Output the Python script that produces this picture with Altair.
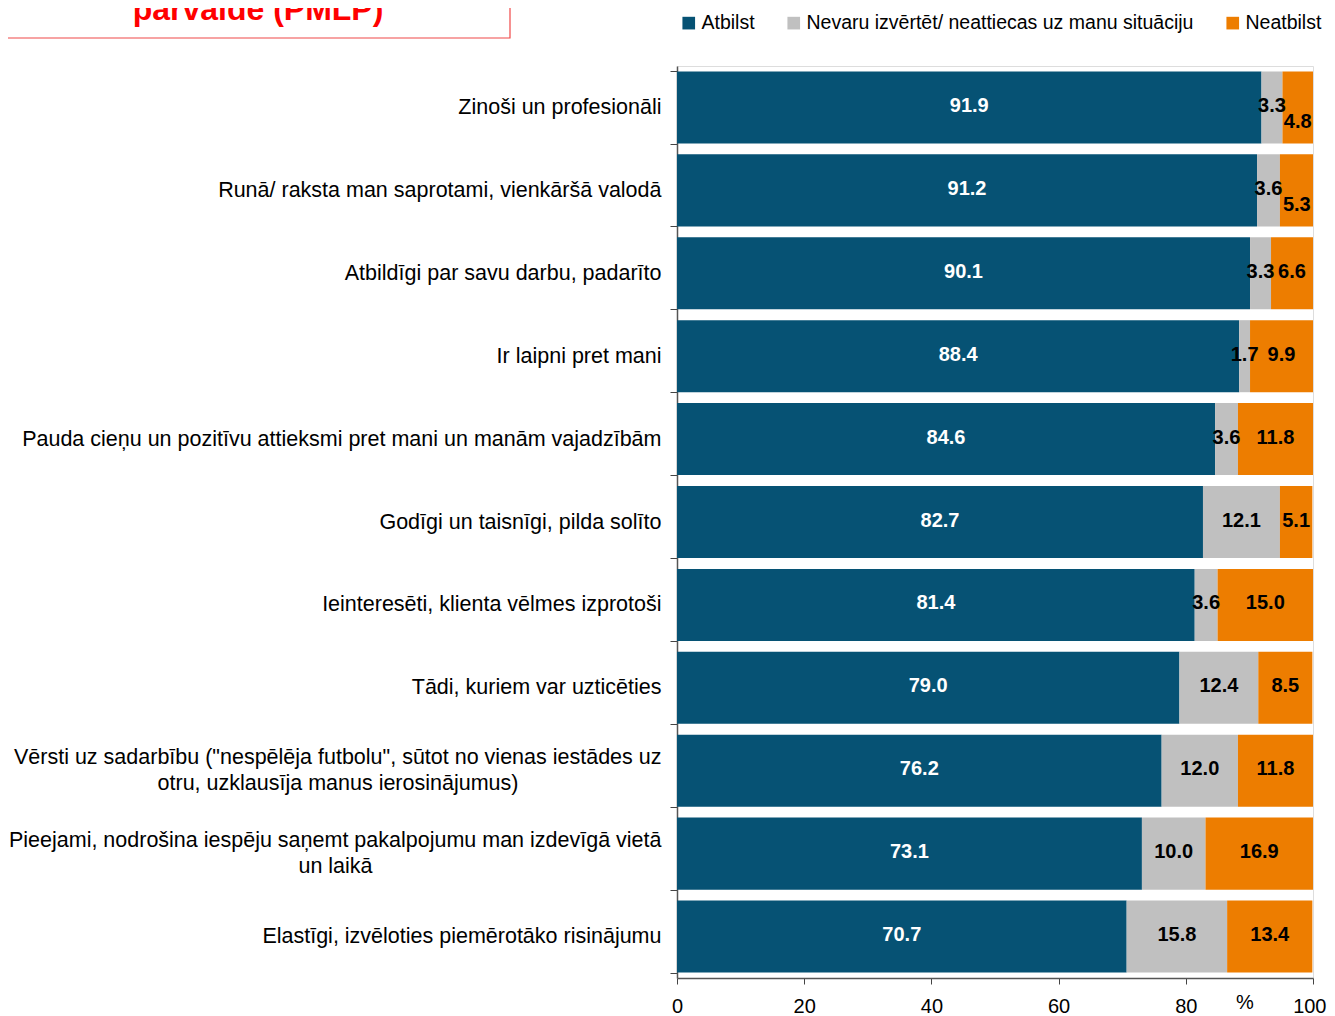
import json
import altair as alt
import pandas as pd

# ---- data ----
categories = [
    "Zinoši un profesionāli",
    "Runā/ raksta man saprotami, vienkāršā valodā",
    "Atbildīgi par savu darbu, padarīto",
    "Ir laipni pret mani",
    "Pauda cieņu un pozitīvu attieksmi pret mani un manām vajadzībām",
    "Godīgi un taisnīgi, pilda solīto",
    "Ieinteresēti, klienta vēlmes izprotoši",
    "Tādi, kuriem var uzticēties",
    "Vērsti uz sadarbību (\"nespēlēja futbolu\", sūtot no vienas iestādes uz|otru, uzklausīja manus ierosinājumus)",
    "Pieejami, nodrošina iespēju saņemt pakalpojumu man izdevīgā vietā|un laikā",
    "Elastīgi, izvēloties piemērotāko risinājumu",
]
atbilst = [91.9, 91.2, 90.1, 88.4, 84.6, 82.7, 81.4, 79.0, 76.2, 73.1, 70.7]
nevaru = [3.3, 3.6, 3.3, 1.7, 3.6, 12.1, 3.6, 12.4, 12.0, 10.0, 15.8]
neatbilst = [4.8, 5.3, 6.6, 9.9, 11.8, 5.1, 15.0, 8.5, 11.8, 16.9, 13.4]

series = ["Atbilst", "Nevaru izvērtēt/ neattiecas uz manu situāciju", "Neatbilst"]
colors = ["#065274", "#C0C0C0", "#ED7D00"]
x_ticks = [0, 20, 40, 60, 80, 100]
title_text = "parvalde (PMLP)"
FONT = "Liberation Sans"

# axis shows the first line of each label; wrapped labels are lifted half a line
# and their second line is drawn centred under the first one
axis_labels = [c.split("|")[0] for c in categories]
second_lines = [c.split("|")[1] if "|" in c else "" for c in categories]
wrapped = [a for a, s in zip(axis_labels, second_lines) if s]
wrapped_test = f"indexof({json.dumps(wrapped, ensure_ascii=False)}, datum.value) >= 0"

rows = []
for i, cat in enumerate(axis_labels):
    vals = [atbilst[i], nevaru[i], neatbilst[i]]
    start = 0.0
    crowded = (nevaru[i] + neatbilst[i]) / 2 < 4.6
    for j, (s, v) in enumerate(zip(series, vals)):
        rows.append(dict(cat=cat, series=s, order=j, value=v, start=start,
                         end=min(start + v, 100), mid=start + v / 2,
                         label=f"{v:.1f}", shifted=bool(j == 2 and crowded),
                         tcolor="white" if j == 0 else "black"))
        start += v
df = pd.DataFrame(rows)

y_scale = alt.Scale(paddingInner=0.131, paddingOuter=0.066)
y_enc = alt.Y("cat:N", sort=axis_labels, scale=y_scale,
              axis=alt.Axis(title=None,
                            labelFontSize=21.5, labelPadding=9,
                            labelOffset={"condition": {"test": wrapped_test, "value": -13.5},
                                         "value": 0},
                            tickSize=7, tickBand="extent", labelLimit=800,
                            labelColor="black", domainColor="#555555", domainWidth=1.5,
                            tickColor="#444444", labelFont=FONT))

x_scale = alt.Scale(domain=[0, 100], nice=False)

bars = alt.Chart(df).mark_bar(clip=True).encode(
    x=alt.X("start:Q", scale=x_scale,
            axis=alt.Axis(values=x_ticks, title=None, tickSize=6, labelFontSize=20,
                          labelPadding=12, grid=False, labelFlush=False,
                          labelOverlap=False, labelColor="black",
                          labelAlign={"condition": {"test": "datum.value === 100", "value": "right"},
                                      "value": "center"},
                          labelOffset={"condition": {"test": "datum.value === 100", "value": 13},
                                       "value": 0},
                          domainColor="#555555", domainWidth=1.5, tickColor="#444444",
                          labelFont=FONT)),
    x2="end:Q",
    y=y_enc,
    color=alt.Color("series:N", title=None,
                    scale=alt.Scale(domain=series, range=colors),
                    legend=alt.Legend(orient="none", legendX=2, legendY=-53,
                                      direction="horizontal", symbolType="square",
                                      symbolSize=160, labelFontSize=19.5, labelOffset=3,
                                      columnPadding=29, symbolStrokeWidth=0, padding=0,
                                      labelLimit=700, labelColor="black", labelFont=FONT)),
    order=alt.Order("order:Q"),
)

def bar_text(dy, test):
    return alt.Chart(df).transform_filter(test).mark_text(
        fontWeight="bold", fontSize=20, font=FONT, align="center",
        baseline="middle", dy=dy).encode(
        x=alt.X("mid:Q", scale=x_scale),
        y=alt.Y("cat:N", sort=axis_labels, scale=y_scale),
        text="label:N",
        color=alt.Color("tcolor:N", scale=None),
    )

labels_main = bar_text(-1.5, "!datum.shifted")
labels_shift = bar_text(15, "datum.shifted")

# centred second lines of the two wrapped category labels
line2_df = pd.DataFrame({"cat": axis_labels, "line2": second_lines})
line2_df = line2_df[line2_df["line2"] != ""]

def line2(idx, xpos):
    return alt.Chart(line2_df.iloc[[idx]]).mark_text(
        fontSize=21.5, font=FONT, color="black", align="center", baseline="middle", dy=13.5
    ).encode(x=alt.value(xpos), y=alt.Y("cat:N", sort=axis_labels, scale=y_scale),
             text="line2:N")

line2_a = line2(0, -339)
line2_b = line2(1, -341.5)

title_df = pd.DataFrame({"t": [title_text]})
box = alt.Chart(title_df).mark_rect(fillOpacity=0, stroke="#F04848", strokeWidth=1.2).encode(
    x=alt.value(-671), x2=alt.value(-167), y=alt.value(-120), y2=alt.value(-28))
title = alt.Chart(title_df).mark_text(fontSize=32, fontWeight="bold", color="#FF0000",
                                      align="center", baseline="alphabetic", font=FONT).encode(
    x=alt.value(-419), y=alt.value(-46), text="t:N")

pct = alt.Chart(pd.DataFrame({"t": ["%"]})).mark_text(fontSize=20, font=FONT, color="black",
                                                      align="center", baseline="middle").encode(
    x=alt.value(568), y=alt.value(937), text="t:N")

chart = alt.layer(bars, labels_main, labels_shift, line2_a, line2_b, box, title, pct).properties(
    width=636, height=912,
    autosize=alt.AutoSizeParams(type="none"),
    padding={"left": 669, "top": 58, "right": 14, "bottom": 44},
).configure_view(stroke=None).configure(font=FONT)

chart.save("out.html", embed_options={"renderer": "svg", "actions": False})
